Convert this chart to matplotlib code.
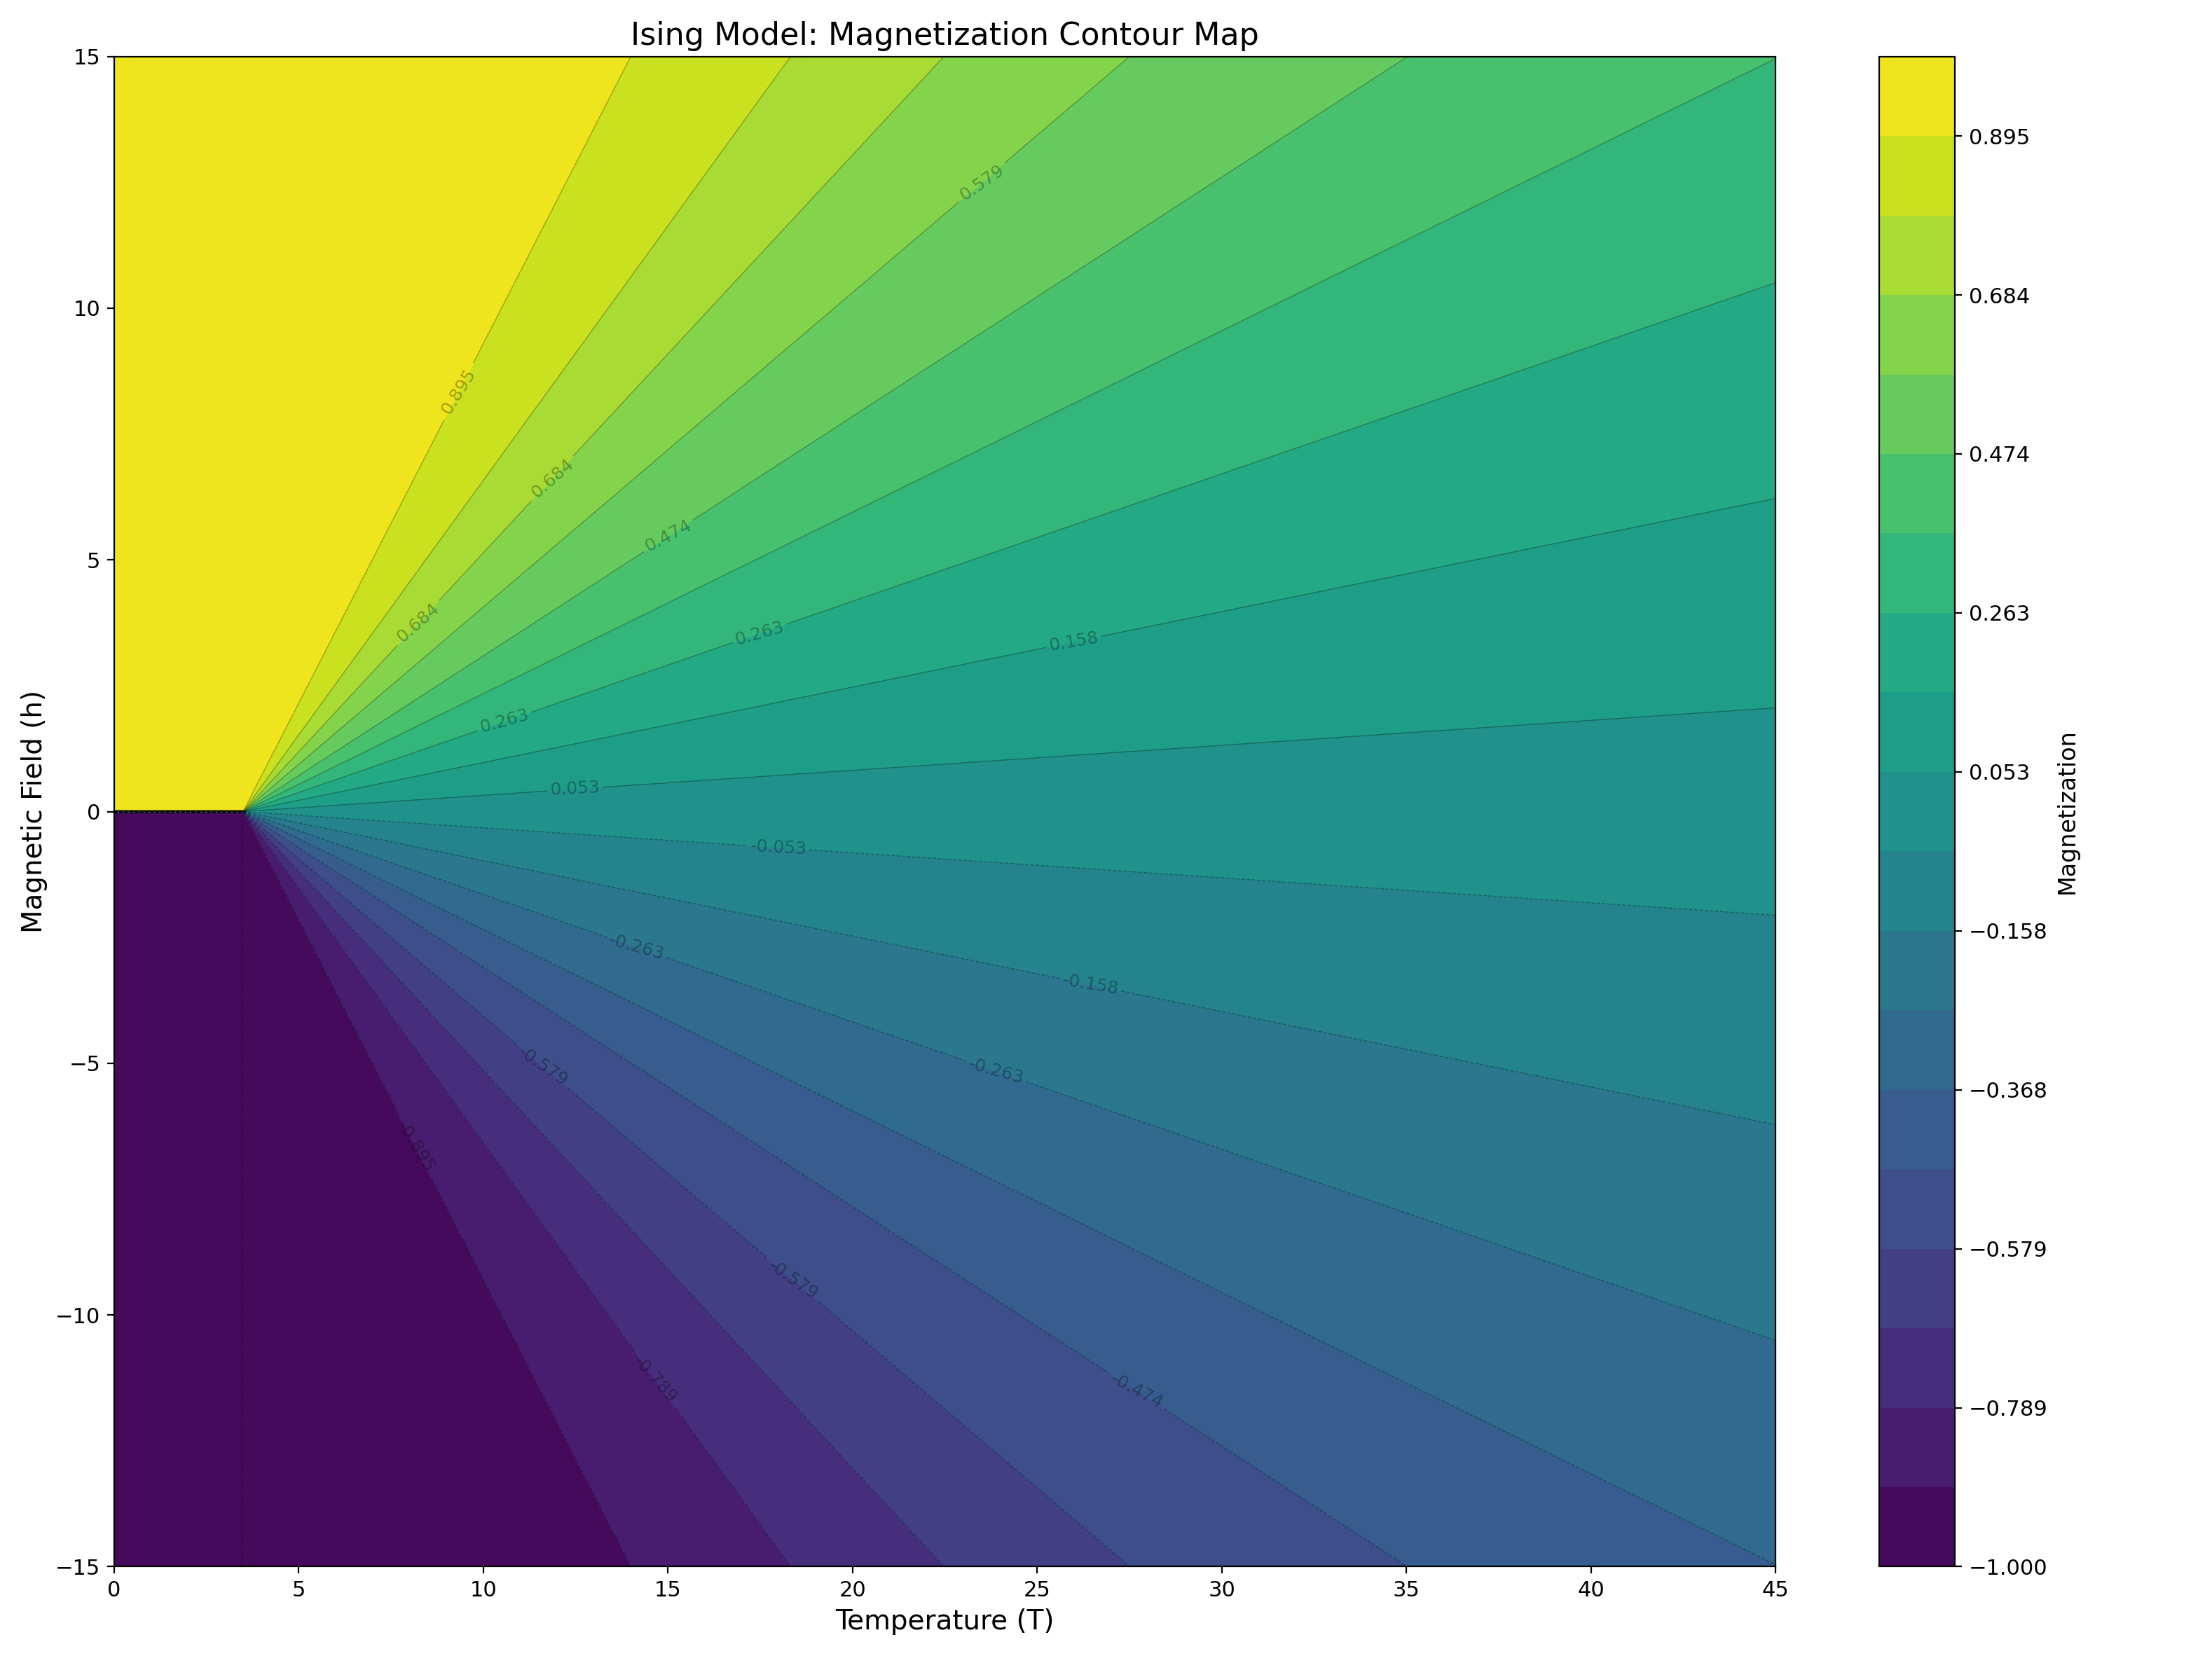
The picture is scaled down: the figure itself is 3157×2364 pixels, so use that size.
import numpy as np
import matplotlib.pyplot as plt

# magnetization vs. field/temperature ratio r = h / (T - T_c)
T_c = 3.5
ratio_pts = np.array([0.0, 0.05, 0.15, 0.253, 0.36, 0.476, 0.625, 0.79, 1.01, 1.43, 2.2, 3.5, 1e6])
magn_pts = np.array([0.0, 0.053, 0.158, 0.263, 0.368, 0.474, 0.579, 0.684, 0.789, 0.895, 0.975, 0.998, 1.0])

temps = np.linspace(0, 45, 900)
fields = np.linspace(-15, 15, 1201)
levels = np.linspace(-1, 1, 20)

# where the contour labels sit in the reference
label_spots = [(9, 8.5), (8, 4), (12, 6.5), (23.5, 12.5), (15, 5.5), (10.5, 2),
               (17.5, 3.5), (26, 3.3), (12.5, 0.3), (18, -0.6), (26.5, -3.2),
               (24, -4.8), (14, -3.2), (28, -11), (19, -8.5), (11.5, -5.2),
               (15, -11), (8.5, -6.5)]

T, H = np.meshgrid(temps, fields)
dT = np.maximum(T - T_c, 1e-9)
M = np.sign(H) * np.interp(np.abs(H) / dT, ratio_pts, magn_pts)

fig, ax = plt.subplots(figsize=(15.785, 11.82), dpi=200)
cf = ax.contourf(T, H, M, levels=levels, cmap="viridis")
cs = ax.contour(T, H, M, levels=levels, colors="k", linewidths=0.5, alpha=0.3)
ax.clabel(cs, fontsize=9, fmt="%.3f", inline=True, manual=label_spots)

cb = fig.colorbar(cf, ax=ax, ticks=levels[::2])
cb.set_label("Magnetization", fontsize=12)
cb.ax.tick_params(labelsize=11)

ax.set_xlabel("Temperature (T)", fontsize=14)
ax.set_ylabel("Magnetic Field (h)", fontsize=14)
ax.set_title("Ising Model: Magnetization Contour Map", fontsize=16)
ax.tick_params(labelsize=11)

plt.tight_layout()
plt.savefig("out.png", dpi=200)
